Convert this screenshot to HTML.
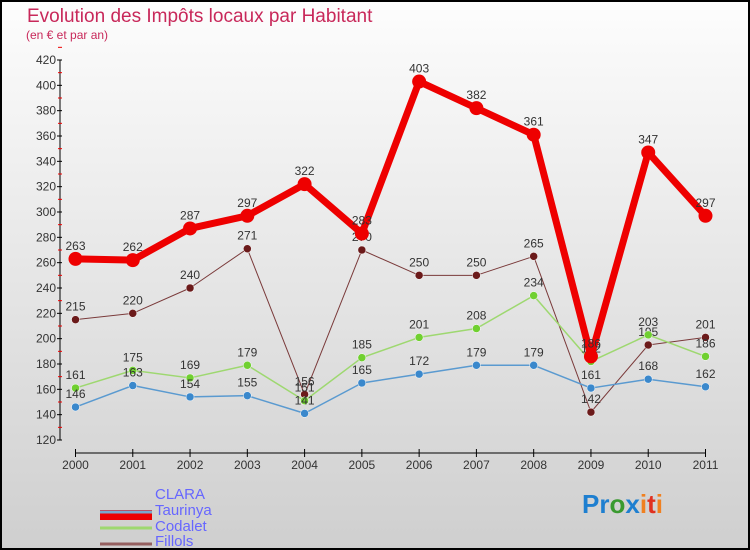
<!DOCTYPE html>
<html><head><meta charset="utf-8"><style>
body{margin:0;width:750px;height:550px;overflow:hidden}
svg{display:block;font-family:"Liberation Sans",sans-serif}
</style></head><body>
<svg id="chart" width="750" height="550">
<defs><linearGradient id="bg" x1="0" y1="0" x2="0" y2="1"><stop offset="0" stop-color="#fdfdfd"/><stop offset="1" stop-color="#cfcfcf"/></linearGradient></defs>
<rect x="1" y="1" width="748" height="548" fill="url(#bg)" stroke="#000" stroke-width="2"/>
<text x="27" y="22" font-size="19" fill="#c8285a">Evolution des Impôts locaux par Habitant</text>
<text x="26" y="39" font-size="12" fill="#c8285a">(en € et par an)</text>
<g id="axes"></g><g id="series"></g>
<g>
<rect x="100" y="510" width="52" height="10" fill="#e00"/>
<text x="155" y="499" font-size="15" fill="#6666ff">CLARA</text>
<line x1="100" y1="512" x2="152" y2="512" stroke="#7aa8cc" stroke-width="3"/>
<text x="155" y="515" font-size="15" fill="#6666ff">Taurinya</text>
<line x1="100" y1="528" x2="152" y2="528" stroke="#9ed870" stroke-width="3"/>
<text x="155" y="531" font-size="15" fill="#6666ff">Codalet</text>
<line x1="100" y1="544" x2="152" y2="544" stroke="#956060" stroke-width="3"/>
<text x="155" y="546" font-size="15" fill="#6666ff">Fillols</text>
</g>
<text x="582" y="513" font-size="26" font-weight="bold"><tspan fill="#1e7fd0">Pr</tspan><tspan fill="#3a9a30">o</tspan><tspan fill="#1e7fd0">x</tspan><tspan fill="#f08020">i</tspan><tspan fill="#e03020">t</tspan><tspan fill="#f08020">i</tspan></text>
</svg>
<script>
const years=["2000","2001","2002","2003","2004","2005","2006","2007","2008","2009","2010","2011"];
const clara=[263,262,287,297,322,283,403,382,361,186,347,297];
const taurinya=[146,163,154,155,141,165,172,179,179,161,168,162];
const codalet=[161,175,169,179,151,185,201,208,234,182,203,186];
const fillols=[215,220,240,271,156,270,250,250,265,142,195,201];
const yTicks=[120,140,160,180,200,220,240,260,280,300,320,340,360,380,400,420];
const NS="http://www.w3.org/2000/svg";
const X=i=>75.5+i*(705.5-75.5)/11;
const Y=v=>60+(420-v)*380/300;
function mk(tag,attrs,parent,text){const e=document.createElementNS(NS,tag);for(const k in attrs)e.setAttribute(k,attrs[k]);if(text!==undefined)e.textContent=text;parent.appendChild(e);return e;}
const ax=document.getElementById('axes');
let yl=mk('line',{x1:60,y1:60,x2:60,y2:440,stroke:'#000'},ax);


yTicks.forEach(t=>{
 mk('line',{x1:57,y1:Y(t),x2:62,y2:Y(t),stroke:'#000'},ax);
 mk('line',{x1:58,y1:Y(t+10),x2:62,y2:Y(t+10),stroke:'#e00'},ax);
 let tx=mk('text',{x:56,y:Y(t)+4,'font-size':12,fill:'#333','text-anchor':'end'},ax,t);
 
 
});
let xl=mk('line',{x1:75.5,y1:453,x2:705.5,y2:453,stroke:'#000'},ax);


years.forEach((y,i)=>{
 mk('line',{x1:X(i),y1:449,x2:X(i),y2:457,stroke:'#000'},ax);
 let tx=mk('text',{x:X(i),y:469,'font-size':12,fill:'#333','text-anchor':'middle'},ax,y);
 
 
});
const sg=document.getElementById('series');
function draw(name,data,color,dot,w,r){
 const g=mk('g',{},sg);
 
 
 mk('polyline',{points:data.map((v,i)=>X(i)+','+Y(v)).join(' '),fill:'none',stroke:color,'stroke-width':w,'stroke-linejoin':'round'},g);
 data.forEach((v,i)=>{
  let c=mk('circle',{cx:X(i),cy:Y(v),r:r,fill:dot,stroke:'#fff','stroke-width':w>3?0:0.5},g);
  
  
  let t=mk('text',{x:X(i),y:Y(v)-9,'font-size':12,fill:'#333','text-anchor':'middle'},g,v);
  
  
 });
}
draw('fillols',fillols,'#7a3a3a','#6b1a1a',1,4);
draw('codalet',codalet,'#9ed870','#70d030',1.5,4);
draw('taurinya',taurinya,'#5a9ad0','#3a88cc',1.5,4);
draw('clara',clara,'#ee0000','#ee0000',7,7);
</script>
</body></html>
